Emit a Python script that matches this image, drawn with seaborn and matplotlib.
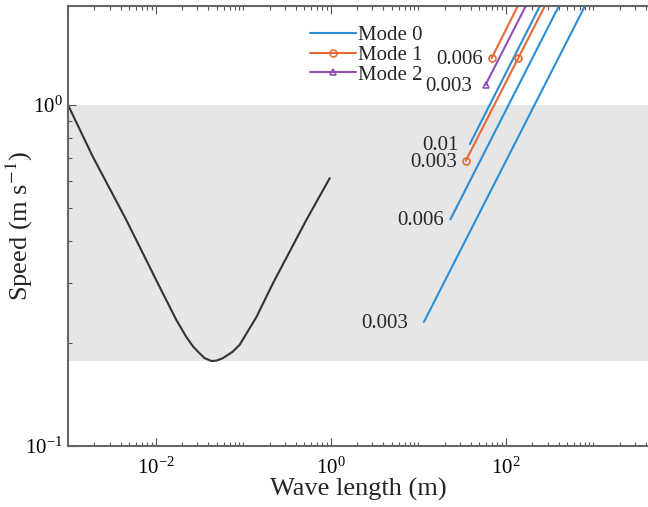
import matplotlib
matplotlib.use("Agg")
import matplotlib.pyplot as plt
import matplotlib.ticker as mticker
from matplotlib.lines import Line2D
import seaborn as sns

sns.set_style("ticks")
plt.rcParams['font.family'] = ['Liberation Serif', 'DejaVu Serif']
plt.rcParams['mathtext.fontset'] = 'stix'

# black dispersion curve
curve_wavelength = [1.0e-3, 1.92e-3, 4.63e-3, 1.11e-2, 1.73e-2, 2.24e-2, 2.67e-2, 3.18e-2,
                    3.63e-2, 4.33e-2, 4.98e-2, 5.88e-2, 7.59e-2, 9.12e-2, 0.142, 0.219,
                    0.527, 0.975]
curve_speed = [1.0, 0.705, 0.46, 0.293, 0.234, 0.209, 0.196, 0.187,
               0.181, 0.1775, 0.178, 0.181, 0.189, 0.198, 0.239, 0.30,
               0.46, 0.61]

# shaded speed band
band_low = 0.177
band_high = 1.0

# mode lines: start, [marked point], end in wavelength / speed
mode0_003_x = [11.6, 800]
mode0_003_y = [0.231, 1.95]
mode0_006_x = [23.3, 403]
mode0_006_y = [0.462, 1.95]
mode0_01_x = [38.8, 245]
mode0_01_y = [0.768, 1.95]
mode1_003_x = [34.9, 138, 279]
mode1_003_y = [0.686, 1.37, 1.95]
mode1_006_x = [68.7, 137]
mode1_006_y = [1.37, 1.95]
mode2_003_x = [58.6, 169]
mode2_003_y = [1.145, 1.95]

mode_names = ["Mode 0", "Mode 1", "Mode 2"]
mode_colors = ["#2b8cd8", "#e86a35", "#9150b8"]
mode_markers = [None, "o", "^"]

lines = [
    (mode0_003_x, mode0_003_y, 0, "0.003", 11.5),
    (mode0_006_x, mode0_006_y, 0, "0.006", 5),
    (mode0_01_x, mode0_01_y, 0, "0.01", 8),
    (mode1_003_x, mode1_003_y, 1, "0.003", 6.5),
    (mode1_006_x, mode1_006_y, 1, "0.006", 6.5),
    (mode2_003_x, mode2_003_y, 2, "0.003", 9.4),
]

fig = plt.figure(figsize=(6.48, 5.07), dpi=100)
ax = fig.add_axes([68 / 648, 61 / 507, 580 / 648, 440 / 507])

ax.axhspan(band_low, band_high, color="#e6e6e6", zorder=0, lw=0)

sns.lineplot(x=curve_wavelength, y=curve_speed, ax=ax, color="#333333", lw=1.5, sort=False)

for xs, ys, mode, lab, off in lines:
    mk = mode_markers[mode]
    sns.lineplot(x=xs, y=ys, ax=ax, color=mode_colors[mode], lw=1.5, sort=False,
                 marker=mk, markersize=5, markerfacecolor="none",
                 markeredgecolor=mode_colors[mode], markeredgewidth=1.2,
                 markevery=list(range(len(xs) - 1)) if mk else None)
    ax.annotate(lab, xy=(xs[0], ys[0]), xytext=(-off, -1.2), textcoords="offset points",
                ha="right", va="center", fontsize=15)

ax.set_xscale("log")
ax.set_yscale("log")
ax.set_xlim(1e-3, 4200)
ax.set_ylim(0.1, 1.95)

ax.xaxis.set_major_locator(mticker.FixedLocator([1e-2, 1e0, 1e2]))
ax.xaxis.set_minor_locator(mticker.LogLocator(base=10, subs=range(1, 10), numticks=30))
ax.xaxis.set_major_formatter(mticker.LogFormatterSciNotation())
ax.xaxis.set_minor_formatter(mticker.NullFormatter())
ax.yaxis.set_major_locator(mticker.FixedLocator([0.1, 1.0]))
ax.yaxis.set_minor_locator(mticker.LogLocator(base=10, subs=range(2, 10), numticks=10))
ax.yaxis.set_major_formatter(mticker.LogFormatterSciNotation())
ax.yaxis.set_minor_formatter(mticker.NullFormatter())

ax.tick_params(which="both", direction="in", top=True, right=False, colors="#555555",
               labelcolor="black", labelsize=15, width=0.8)
ax.tick_params(which="major", length=6)
ax.tick_params(which="minor", length=3)
ax.tick_params(axis="x", which="major", pad=8)
for side in ["left", "top", "bottom"]:
    ax.spines[side].set_color("#666666")
    ax.spines[side].set_linewidth(1.5)
ax.spines["right"].set_visible(False)

ax.set_xlabel("Wave length (m)", fontsize=19, labelpad=0)
ax.set_ylabel("Speed (m s$^{-1}$)", fontsize=19)
ax.yaxis.set_label_coords(-0.057, 0.5)

handles = [Line2D([], [], color=c, lw=1.5, marker=m, markersize=5, markerfacecolor="none",
                  markeredgewidth=1.2)
           for c, m in zip(mode_colors, mode_markers)]
ax.legend(handles, mode_names, loc="upper left", bbox_to_anchor=(0.418, 0.955),
          frameon=False, fontsize=15, borderpad=0, borderaxespad=0, handlelength=2.2,
          handletextpad=0.1, labelspacing=0.0)

fig.savefig("out.png", dpi=100)
